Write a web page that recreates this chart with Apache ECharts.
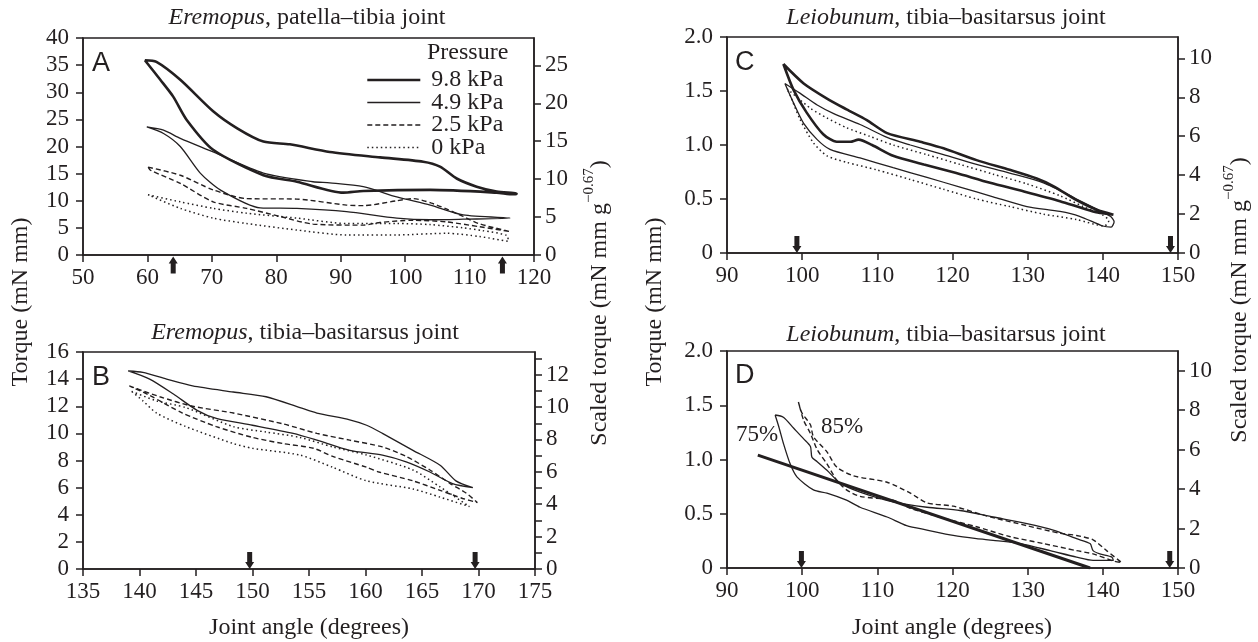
<!DOCTYPE html>
<html>
<head>
<meta charset="utf-8">
<script src="https://cdn.jsdelivr.net/npm/echarts@6/dist/echarts.min.js"></script>
<style>
  html, body { margin: 0; padding: 0; background: #fff; }
  #main { width: 1258px; height: 642px; }
</style>
</head>
<body>
<div id="main"></div>
<script>
// ---- data: [joint angle (deg), torque (mN mm)] ----
// panel A, Eremopus patella-tibia joint (loops: upper branch then lower branch)
const a98Upper = [[59.6, 35.9], [61.4, 35.6], [65.1, 32.3], [70.2, 26.5], [74, 23.3], [78, 20.9], [82.1, 20.4], [88.3, 19.0], [96.1, 18.0], [102.8, 17.2], [105.4, 16.3], [108, 14.1], [111.1, 12.6], [114.2, 11.7], [116.8, 11.4], [117.3, 11.3]]
const a98Lower = [[59.6, 35.9], [62, 32.3], [64, 29.2], [66.1, 24.9], [70.2, 19.4], [78, 14.7], [83.2, 13.5], [90.4, 11.5], [93.5, 11.8], [103.9, 12.0], [114.2, 11.5], [116.8, 11.2], [117.3, 11.3]]
const a49Upper = [[59.9, 23.6], [62.5, 23.0], [65.1, 21.5], [70.2, 19.0], [78, 15.1], [85.7, 13.5], [88.3, 13.3], [93.5, 12.6], [98.7, 10.7], [103.9, 9.2], [109, 7.4], [116.3, 6.8]]
const a49Lower = [[59.9, 23.6], [62.5, 22.4], [65.1, 20.0], [68.2, 15.1], [71.3, 12.0], [77.5, 8.7], [83.2, 8.6], [90.9, 8.0], [98.7, 6.8], [103.9, 6.5], [109, 6.6], [116.3, 6.8]]
const a25Upper = [[60.1, 16.2], [65.1, 14.7], [70.2, 12.0], [75.4, 10.4], [83.2, 10.3], [90.9, 9.2], [93.5, 9.1], [98.7, 10.0], [101.3, 10.4], [104, 9.6], [106.4, 8.5], [109, 7.1], [111.4, 5.8], [116.3, 4.3]]
const a25Lower = [[60.1, 16.2], [60.5, 15.6], [65.1, 13.2], [70.2, 9.8], [75.4, 8.6], [80.6, 7.1], [85.7, 5.7], [93.5, 5.5], [96.1, 6.0], [101.3, 6.4], [106.4, 6.1], [111.6, 5.2], [116.3, 4.3]]
const a0Upper = [[60.1, 11.1], [65.1, 9.8], [70.2, 8.6], [75.4, 7.7], [83.2, 6.8], [90.9, 5.8], [98.7, 5.8], [103.9, 5.6], [109, 5.0], [112, 4.5], [115.8, 3.6], [116, 2.5]]
const a0Lower = [[60.1, 11.1], [65.1, 8.6], [70.2, 6.8], [75.4, 5.8], [83.2, 4.6], [90.9, 3.7], [98.7, 3.7], [106.4, 4.0], [111.6, 3.4], [116, 2.5]]

// panel B, Eremopus tibia-basitarsus joint
const bSolidUpper = [[139, 14.6], [140.3, 14.5], [142.4, 14.0], [144.7, 13.5], [148.3, 13.05], [151.2, 12.7], [154.2, 11.9], [155.7, 11.5], [158.6, 11.0], [160.1, 10.6], [161.5, 10.0], [164.2, 8.75], [166.6, 7.65], [168, 6.5], [169.5, 6.0]]
const bSolidLower = [[139, 14.6], [140.9, 14.0], [143, 12.9], [145.1, 11.7], [146.8, 11.1], [150, 10.6], [153.6, 10.0], [155.7, 9.5], [158.6, 8.75], [161.5, 8.4], [163.6, 7.9], [165.7, 7.15], [167.7, 6.3], [169.5, 6.0]]
const bDashUpper = [[139.1, 13.5], [141.8, 12.7], [144.7, 12.0], [148.3, 11.5], [152.7, 10.7], [155.7, 10.0], [158.6, 9.5], [161.5, 9.0], [163.6, 8.3], [165.7, 7.3], [167.5, 6.3], [168.9, 5.6], [169.9, 4.9]]
const bDashLower = [[139.1, 13.5], [140.9, 12.8], [143.8, 11.5], [146.8, 10.5], [150, 9.7], [152.7, 9.25], [155.4, 8.9], [157.1, 8.3], [160.1, 7.5], [161.2, 7.15], [164.2, 6.5], [166.6, 5.8], [168.6, 5.2], [169.9, 4.9]]
const bDotUpper = [[139.3, 13.1], [141.5, 12.4], [144.1, 11.9], [148.3, 10.5], [151.2, 10.1], [154.2, 9.7], [157.1, 9.0], [160.1, 8.4], [164.2, 7.3], [166.6, 6.05], [169.2, 4.6]]
const bDotLower = [[139.3, 13.1], [140.3, 12.4], [141.5, 11.5], [144.1, 10.5], [148.3, 9.25], [150, 8.9], [154.2, 8.4], [157.1, 7.5], [160.1, 6.5], [164.2, 5.9], [166.6, 5.3], [169.2, 4.6]]

// panel C, Leiobunum tibia-basitarsus joint
const cThickUpper = [[97.5, 1.75], [100.2, 1.57], [103.3, 1.43], [105.9, 1.33], [108.6, 1.23], [111.3, 1.11], [115.7, 1.03], [118.8, 0.97], [123.2, 0.86], [127.6, 0.77], [131.2, 0.69], [133.4, 0.62], [136.5, 0.49], [139.2, 0.40], [141.4, 0.355]]
const cThickLower = [[97.5, 1.75], [98.85, 1.51], [100.6, 1.30], [102.8, 1.10], [104.6, 1.03], [106.4, 1.03], [107.5, 1.05], [109.3, 1.0], [112.1, 0.90], [116.2, 0.82], [120.5, 0.74], [125, 0.65], [129.5, 0.57], [134.3, 0.48], [138.7, 0.385], [141.4, 0.355]]
const cThinUpper = [[97.7, 1.57], [99.7, 1.48], [102, 1.37], [104.2, 1.29], [107.7, 1.19], [111.3, 1.07], [114.4, 1.0], [118.8, 0.91], [123.2, 0.82], [127.6, 0.74], [132.1, 0.65], [136.5, 0.5], [139.6, 0.39], [141, 0.34], [141.5, 0.29]]
const cThinLower = [[97.7, 1.57], [98.85, 1.39], [100.2, 1.20], [102, 1.05], [103.7, 0.96], [107.7, 0.88], [112.1, 0.79], [116.6, 0.70], [121, 0.61], [125.4, 0.52], [129.9, 0.43], [134.3, 0.385], [136.9, 0.34], [140, 0.25], [141.1, 0.24], [141.5, 0.29]]
const cDotUpper = [[98, 1.52], [101.1, 1.34], [103.3, 1.25], [105.9, 1.16], [109, 1.08], [112.1, 1.0], [116.6, 0.91], [121, 0.82], [125.4, 0.73], [129.9, 0.64], [134.3, 0.53], [137.4, 0.43], [140, 0.35], [140.8, 0.3]]
const cDotLower = [[98, 1.52], [98.4, 1.46], [99.7, 1.24], [101.5, 1.02], [103.3, 0.90], [105.9, 0.84], [109.9, 0.77], [114.4, 0.68], [118.8, 0.59], [123.2, 0.50], [127.6, 0.43], [132.1, 0.36], [136.5, 0.31], [140.2, 0.25], [140.8, 0.3]]

// panel D, Leiobunum tibia-basitarsus joint, 75% and 85% loops plus fitted line
const d75Upper = [[96.4, 1.41], [97.5, 1.39], [98.85, 1.29], [100.2, 1.19], [101.1, 1.12], [101.3, 1.02], [102, 0.98], [103.3, 0.90], [105.1, 0.78], [107.7, 0.70], [112.1, 0.61], [116.6, 0.56], [121, 0.53], [125.4, 0.47], [129.9, 0.41], [133.4, 0.35], [136.5, 0.27], [138.3, 0.225], [138.7, 0.16], [139.6, 0.13], [141.2, 0.10], [141.4, 0.07]]
const d75Lower = [[96.4, 1.41], [96.9, 1.30], [97.5, 1.15], [98.4, 0.96], [99.3, 0.84], [101.5, 0.72], [103.3, 0.69], [105.9, 0.625], [107.7, 0.56], [111.3, 0.47], [113.9, 0.39], [116.6, 0.35], [120.1, 0.30], [123.2, 0.27], [125.4, 0.255], [129, 0.225], [133, 0.16], [136.5, 0.10], [138.7, 0.07], [141.4, 0.07]]
const d85Upper = [[99.5, 1.53], [99.96, 1.43], [101.1, 1.32], [101.5, 1.21], [103.3, 1.07], [104.6, 0.93], [106.8, 0.85], [111.3, 0.79], [114.4, 0.69], [116.6, 0.60], [120.1, 0.57], [124.5, 0.48], [129.9, 0.39], [134.3, 0.32], [136.5, 0.30], [138.7, 0.26], [140.5, 0.16], [142.5, 0.05]]
const d85Lower = [[99.5, 1.53], [100.2, 1.36], [101.1, 1.24], [102, 1.09], [103.3, 0.96], [104.6, 0.81], [105.9, 0.72], [107.7, 0.66], [112.1, 0.625], [114.4, 0.55], [118.8, 0.46], [123.2, 0.38], [127.6, 0.29], [132.1, 0.225], [136.5, 0.16], [138.7, 0.13], [141.4, 0.065], [142.5, 0.05]]
const dFit = [[94.1, 1.04], [138.3, 0.0]]

// arrows along the angle axes
const arrowsA = [64.0, 115.1]
const arrowsB = [149.75, 169.7]
const arrowsC = [99.3, 149.0]
const arrowsD = [99.9, 148.9]

// right-hand (scaled torque) tick values
const rightTicksA = [0, 5, 10, 15, 20, 25]
const rightLabelsB = [0, 2, 4, 6, 8, 10, 12]
const rightTicksB = [0, 1, 2, 3, 4, 5, 6, 7, 8, 9, 10, 11, 12, 13]
const rightTicksCD = [0, 2, 4, 6, 8, 10]

const pressures = ['9.8 kPa', '4.9 kPa', '2.5 kPa', '0 kPa']
const pressureKinds = ['thick', 'thin', 'dashed', 'dotted']

const serif = 'Liberation Serif'
const ink = '#231f20'

let myChart = echarts.init(document.getElementById('main'))

function loop (upper, lower) {
  // out along the upper branch, back along the lower one
  return upper.concat(lower.slice().reverse())
}

const lineKinds = {
  thick: { width: 2.6, type: 'solid' },
  thin: { width: 1.3, type: 'solid' },
  dashed: { width: 1.4, type: [5, 3] },
  dotted: { width: 1.5, type: [1.5, 3] }
}

function curve (name, gi, data, kind) {
  return {
    type: 'line',
    name: name,
    xAxisIndex: gi,
    yAxisIndex: gi * 2,
    data: data,
    symbol: 'none',
    showSymbol: false,
    smooth: 0.25,
    silent: true,
    lineStyle: Object.assign({ color: ink, cap: 'butt' }, lineKinds[kind]),
    itemStyle: { color: ink }
  }
}

const downArrow = 'path://M2,0 L7,0 L7,10 L9,10 L4.5,17 L0,10 L2,10 Z'
const upArrow = 'path://M4.5,0 L9,7 L7,7 L7,17 L2,17 L2,7 L0,7 Z'

function arrows (gi, xs, up) {
  return {
    type: 'scatter',
    name: 'arrows' + gi,
    xAxisIndex: gi,
    yAxisIndex: gi * 2,
    data: xs.map(x => [x, 0]),
    symbol: up ? upArrow : downArrow,
    symbolSize: [9, 17],
    symbolOffset: [0, up ? 10 : -8.5],
    clip: false,
    silent: true,
    itemStyle: { color: ink, opacity: 1 }
  }
}

const grids = [
  { left: 83, top: 38, width: 451, height: 217 },
  { left: 83, top: 352, width: 452, height: 217 },
  { left: 727, top: 37, width: 451, height: 216 },
  { left: 727, top: 351, width: 451, height: 217 }
].map(g => Object.assign({ show: true, borderColor: ink, borderWidth: 1.5, outerBoundsMode: 'none' }, g))

const axisLine = { onZero: false, lineStyle: { color: ink, width: 1.5 } }
const tickStyle = { length: 7, lineStyle: { color: ink, width: 1.5 } }
const labelFont = { color: ink, fontFamily: serif, fontSize: 23 }

function xAx (gi, min, max, interval) {
  return {
    type: 'value', gridIndex: gi, min: min, max: max, interval: interval,
    axisLine: axisLine, axisTick: tickStyle, splitLine: { show: false },
    axisLabel: Object.assign({ margin: 11 }, labelFont)
  }
}

function leftAx (gi, max, interval, fmt) {
  return {
    type: 'value', gridIndex: gi, position: 'left', min: 0, max: max, interval: interval,
    axisLine: axisLine, axisTick: tickStyle, splitLine: { show: false },
    axisLabel: Object.assign({ margin: 14, formatter: fmt }, labelFont)
  }
}

function rightAx (gi, max, ticks, labels) {
  return {
    type: 'value', gridIndex: gi, position: 'right', min: 0, max: max,
    axisLine: axisLine, splitLine: { show: false },
    axisTick: Object.assign({ customValues: ticks }, tickStyle),
    axisLabel: Object.assign({ margin: 11, customValues: labels || ticks }, labelFont)
  }
}

const oneDecimal = v => (v === 0 ? '0' : v.toFixed(1))

function title (x, y, genus, rest) {
  return {
    type: 'text', x: x, y: y,
    style: {
      text: '{i|' + genus + '}' + rest,
      fontFamily: serif, fontSize: 24, fill: ink, align: 'center', verticalAlign: 'middle',
      rich: { i: { fontFamily: serif, fontSize: 24, fontStyle: 'italic', fill: ink } }
    }
  }
}

function plain (x, y, text, extra) {
  return {
    type: 'text', x: x, y: y,
    style: Object.assign({ text: text, fontFamily: serif, fontSize: 24, fill: ink, align: 'center', verticalAlign: 'middle' }, extra || {})
  }
}

function letter (x, y, text) {
  return {
    type: 'text', x: x, y: y,
    style: { text: text, fontFamily: 'Liberation Sans', fontSize: 27, fill: ink, align: 'left', verticalAlign: 'top' }
  }
}

function vertical (x, y, text, rich) {
  return {
    type: 'text', x: x, y: y, rotation: Math.PI / 2,
    style: {
      text: text, fontFamily: serif, fontSize: 24, fill: ink, align: 'center', verticalAlign: 'middle',
      rich: rich
    }
  }
}

const scaledRich = {
  m: { fontFamily: serif, fontSize: 24, fill: ink, verticalAlign: 'bottom', lineHeight: 30 },
  sup: { fontFamily: serif, fontSize: 15, fill: ink, verticalAlign: 'top', lineHeight: 30 }
}
const scaledName = '{m|Scaled torque (mN mm g}{sup|\u22120.67}{m|)}'

const option = {
  animation: false,
  backgroundColor: '#fff',
  grid: grids,
  xAxis: [
    xAx(0, 50, 120, 10),
    xAx(1, 135, 175, 5),
    xAx(2, 90, 150, 10),
    xAx(3, 90, 150, 10)
  ],
  yAxis: [
    leftAx(0, 40, 5), rightAx(0, 28.6, rightTicksA),
    leftAx(1, 16, 2), rightAx(1, 13.4, rightTicksB, rightLabelsB),
    leftAx(2, 2, 0.5, oneDecimal), rightAx(2, 11.1, rightTicksCD),
    leftAx(3, 2, 0.5, oneDecimal), rightAx(3, 11.0, rightTicksCD)
  ],
  legend: {
    data: pressures.map((p, i) => ({
      name: p,
      lineStyle: Object.assign({ color: ink }, lineKinds[pressureKinds[i]])
    })),
    orient: 'vertical',
    left: 366,
    top: 68,
    padding: 0,
    itemGap: -1.5,
    itemWidth: 53,
    itemHeight: 14,
    selectedMode: false,
    itemStyle: { opacity: 0 },
    textStyle: { color: ink, fontFamily: serif, fontSize: 24, lineHeight: 22, padding: [0, 0, 0, 6] }
  },
  series: [
    curve(pressures[0], 0, loop(a98Upper, a98Lower), 'thick'),
    curve(pressures[1], 0, loop(a49Upper, a49Lower), 'thin'),
    curve(pressures[2], 0, loop(a25Upper, a25Lower), 'dashed'),
    curve(pressures[3], 0, loop(a0Upper, a0Lower), 'dotted'),
    arrows(0, arrowsA, true),

    curve('B solid', 1, loop(bSolidUpper, bSolidLower), 'thin'),
    curve('B dashed', 1, loop(bDashUpper, bDashLower), 'dashed'),
    curve('B dotted', 1, loop(bDotUpper, bDotLower), 'dotted'),
    arrows(1, arrowsB, false),

    curve('C thick', 2, loop(cThickUpper, cThickLower), 'thick'),
    curve('C thin', 2, loop(cThinUpper, cThinLower), 'thin'),
    curve('C dotted', 2, loop(cDotUpper, cDotLower), 'dotted'),
    arrows(2, arrowsC, false),

    curve('75%', 3, loop(d75Upper, d75Lower), 'thin'),
    curve('85%', 3, loop(d85Upper, d85Lower), 'dashed'),
    Object.assign(curve('fit', 3, dFit, 'thick'), { smooth: false, lineStyle: { color: ink, width: 3 } }),
    arrows(3, arrowsD, false)
  ],
  graphic: [
    title(307, 18, 'Eremopus', ', patella\u2013tibia joint'),
    title(305, 333, 'Eremopus', ', tibia\u2013basitarsus joint'),
    title(946, 18, 'Leiobunum', ', tibia\u2013basitarsus joint'),
    title(946, 335, 'Leiobunum', ', tibia\u2013basitarsus joint'),
    letter(92, 50, 'A'),
    letter(92, 364, 'B'),
    letter(735, 49, 'C'),
    letter(735, 362, 'D'),
    plain(427, 53, 'Pressure', { align: 'left' }),
    plain(757, 435, '75%', { fontSize: 23 }),
    plain(842, 427, '85%', { fontSize: 23 }),
    vertical(21, 302, 'Torque (mN mm)'),
    vertical(655, 302, 'Torque (mN mm)'),
    vertical(597, 303, scaledName, scaledRich),
    vertical(1237, 300, scaledName, scaledRich),
    plain(309, 628, 'Joint angle (degrees)'),
    plain(952, 628, 'Joint angle (degrees)')
  ]
}

myChart.setOption(option)
</script>
</body>
</html>
